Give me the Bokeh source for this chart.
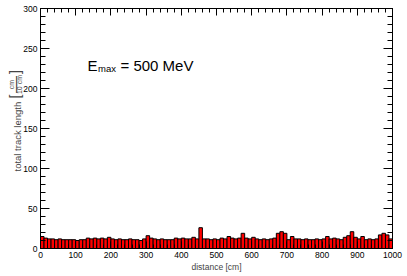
import math
from bokeh.plotting import figure
from bokeh.models import (LinearAxis, SingleIntervalTicker, Range1d, Label,
                          CustomLabelingPolicy)
from bokeh.embed import file_html
from bokeh.resources import INLINE

# ---- data ----
bin_width = 10  # cm
counts = [
    15, 13, 12, 12, 11, 12, 11, 11, 11, 11,
    10, 11, 11, 13, 12, 13, 12, 13, 12, 14,
    12, 11, 12, 11, 11, 12, 11, 11, 10, 12,
    16, 13, 12, 11, 12, 11, 11, 11, 13, 12,
    13, 12, 12, 14, 12, 26, 12, 12, 11, 12,
    11, 13, 12, 15, 13, 12, 13, 19, 13, 12,
    14, 12, 11, 12, 11, 12, 13, 19, 21, 19,
    11, 15, 12, 12, 11, 12, 11, 11, 12, 11,
    12, 15, 12, 13, 12, 11, 14, 16, 21, 14,
    12, 15, 11, 12, 11, 12, 17, 19, 17, 12,
]
bin_left = [i * bin_width for i in range(len(counts))]
bin_right = [l + bin_width for l in bin_left]

x_min, x_max = 0, 1000
y_min, y_max = 0, 300
x_tick_step, y_tick_step = 100, 50

x_label = "distance [cm]"
y_label = "total track length"
frac_num = "cm"
frac_den = "10 cm"
annotation_main = "E"
annotation_sub = "max"
annotation_rest = "= 500 MeV"

FONT = "Liberation Sans"

# ---- layout (pixels) ----
W, H = 403, 272
FL, FR, FT, FB = 40, 392, 8, 248          # axes box in canvas pixels
sx = (FR - FL) / (x_max - x_min)
sy = (FB - FT) / (y_max - y_min)
xr = Range1d(x_min - FL / sx, x_max + (W - FR) / sx)
yr = Range1d(y_min - (H - FB) / sy, y_max + FT / sy)

p = figure(width=W, height=H, output_backend="svg", toolbar_location=None,
           x_range=xr, y_range=yr,
           min_border_left=0, min_border_right=0, min_border_top=0,
           min_border_bottom=0, background_fill_color="white",
           border_fill_color="white")
p.xgrid.visible = False
p.ygrid.visible = False
p.outline_line_color = None

p.quad(left=bin_left, right=bin_right, bottom=0, top=counts,
       fill_color="#ff0000", line_color="black", line_width=1)

no_labels = CustomLabelingPolicy(code="""
for (const i of indices)
    indices.unset(i)
return indices
""")

def style(ax, tick_major, tick_minor, labels=True):
    ax.axis_line_color = "black"
    ax.axis_line_width = 1
    ax.major_tick_line_color = "black"
    ax.minor_tick_line_color = "black"
    ax.major_tick_in = tick_major
    ax.major_tick_out = 0
    ax.minor_tick_in = tick_minor
    ax.minor_tick_out = 0
    ax.major_label_text_font = FONT
    ax.major_label_text_color = "black"
    ax.major_label_text_font_size = "8.5px"
    if not labels:
        ax.major_label_policy = no_labels

xa = p.xaxis[0]
ya = p.yaxis[0]
xa.ticker = SingleIntervalTicker(interval=x_tick_step, num_minor_ticks=5)
ya.ticker = SingleIntervalTicker(interval=y_tick_step, num_minor_ticks=5)
xa.fixed_location = y_min
ya.fixed_location = x_min
xa.bounds = (x_min, x_max)
ya.bounds = (y_min, y_max)
style(xa, 7, 4)
style(ya, 9, 5)
xa.major_label_standoff = 3
ya.major_label_standoff = 3
xa.axis_label = x_label
xa.axis_label_text_font = FONT
xa.axis_label_text_font_style = "normal"
xa.axis_label_text_font_size = "8.5px"
xa.axis_label_standoff = 1

top_ax = LinearAxis(ticker=SingleIntervalTicker(interval=x_tick_step, num_minor_ticks=5),
                    fixed_location=y_max, bounds=(x_min, x_max))
right_ax = LinearAxis(ticker=SingleIntervalTicker(interval=y_tick_step, num_minor_ticks=5),
                      fixed_location=x_max, bounds=(y_min, y_max))
style(top_ax, 7, 4, labels=False)
style(right_ax, 9, 5, labels=False)
p.add_layout(top_ax, "above")
p.add_layout(right_ax, "right")

def dx(px):   # canvas pixel x -> data x
    return x_min + (px - FL) / sx

def dy(py):   # canvas pixel y -> data y
    return y_min + (FB - py) / sy

# E_max annotation
ex, ey = dx(87), dy(65)
p.add_layout(Label(x=ex, y=ey, text=annotation_main, text_font=FONT,
                   text_font_size="15px", text_baseline="alphabetic",
                   text_align="left", text_color="black"))
p.add_layout(Label(x=ex, y=ey, x_offset=10.5, y_offset=-3, text=annotation_sub,
                   text_font=FONT, text_font_size="9.5px",
                   text_baseline="alphabetic", text_align="left", text_color="black"))
p.add_layout(Label(x=ex, y=ey, x_offset=33, text=annotation_rest,
                   text_font=FONT, text_font_size="15px",
                   text_baseline="alphabetic", text_align="left", text_color="black"))

# y-axis title (rotated) with bracketed fraction
rot = math.pi / 2
p.add_layout(Label(x=dx(17), y=dy(171), text=y_label, angle=rot, text_font=FONT,
                   text_font_size="9.5px", text_baseline="alphabetic",
                   text_align="left"))
p.add_layout(Label(x=dx(14), y=dy(96), text="[", angle=rot, text_font=FONT,
                   text_font_size="14px", text_baseline="middle",
                   text_align="center"))
p.add_layout(Label(x=dx(14), y=dy(71.5), text="]", angle=rot, text_font=FONT,
                   text_font_size="14px", text_baseline="middle",
                   text_align="center"))
p.add_layout(Label(x=dx(11), y=dy(84), text=frac_num, angle=rot, text_font=FONT,
                   text_font_size="7px", text_baseline="middle",
                   text_align="center"))
p.add_layout(Label(x=dx(18.5), y=dy(84), text=frac_den, angle=rot, text_font=FONT,
                   text_font_size="7px", text_baseline="middle",
                   text_align="center"))
p.add_layout(Label(x=dx(15), y=dy(84), text="\u2014", angle=rot, text_font=FONT,
                   text_font_size="17px", text_baseline="middle",
                   text_align="center"))

open("out.html", "w").write(file_html(p, INLINE))
